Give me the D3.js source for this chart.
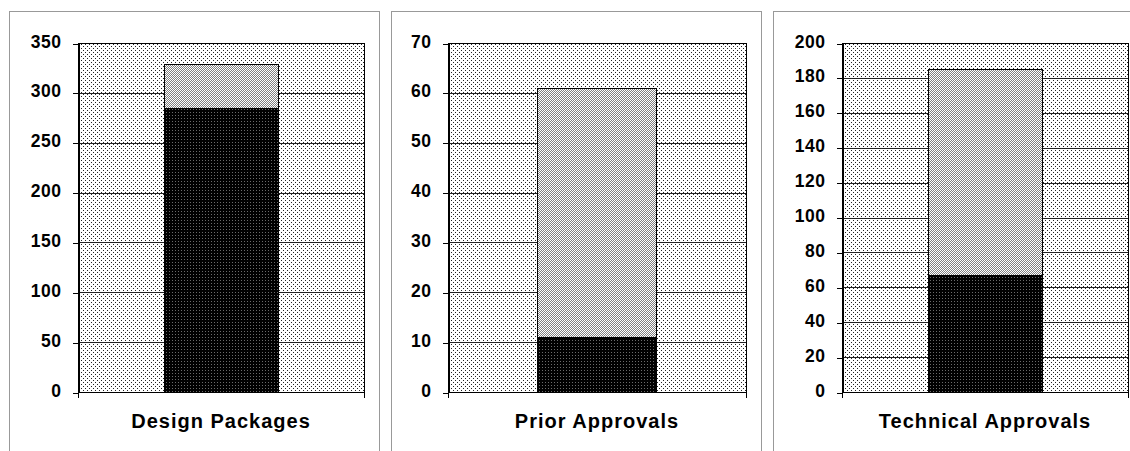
<!DOCTYPE html>
<html>
<head>
<meta charset="utf-8">
<script src="https://cdn.jsdelivr.net/npm/d3@7"></script>
<style>
body { margin: 0; background: #fff; overflow: hidden; }
text { font-family: "Liberation Sans", Arial, sans-serif; font-weight: bold; fill: #000; }
</style>
</head>
<body>
<div id="chart"></div>
<script>
const categories = ["Design Packages", "Prior Approvals", "Technical Approvals"];
const completed = [285, 11, 67];
const outstanding = [44, 50, 118];
const axisMax = [350, 70, 200];
const axisStep = [50, 10, 20];

const width = 1130, height = 451;
const panelX = [9, 391, 773];
const leftPad = [69, 57, 69];
const plotRight = 355;
const plotTop = 43, plotBottom = 392;

const svg = d3.select("#chart").append("svg")
    .attr("width", width)
    .attr("height", height);

const defs = svg.append("defs");

// little helper for the bitmap-like fill patterns
const pattern = (id, size, bg, cells) => {
    const p = defs.append("pattern")
        .attr("id", id)
        .attr("patternUnits", "userSpaceOnUse")
        .attr("width", size)
        .attr("height", size);
    p.append("rect").attr("width", size).attr("height", size).attr("fill", bg);
    cells.forEach(([x, y, c]) =>
        p.append("rect").attr("x", x).attr("y", y).attr("width", 1).attr("height", 1).attr("fill", c));
}

pattern("dots", 4, "#fff", [[0, 0, "#222"], [2, 2, "#222"]]);
pattern("hatch", 2, "#fff", [[0, 0, "#808080"], [1, 1, "#808080"]]);
pattern("dark", 3, "#000", [[1, 1, "#6a6a6a"]]);

const panel = function(i) {
    const g = svg.append("g")
        .attr("transform", `translate(${panelX[i]},0)`)
        .attr("shape-rendering", "crispEdges");

    g.append("rect")
        .attr("x", 0.5).attr("y", 11.5)
        .attr("width", 370).attr("height", 480)
        .attr("fill", "#fff")
        .attr("stroke", "#999");

    const left = leftPad[i];

    const x = d3.scaleBand()
        .domain([categories[i]])
        .range([left, plotRight])
        .paddingInner(0)
        .paddingOuter(0.75);

    const y = d3.scaleLinear()
        .domain([0, axisMax[i]])
        .range([plotBottom, plotTop]);

    const ticks = d3.range(0, axisMax[i] + 1, axisStep[i]);

    g.append("rect")
        .attr("x", left).attr("y", plotTop)
        .attr("width", plotRight - left).attr("height", plotBottom - plotTop)
        .attr("fill", "url(#dots)");

    g.append("g")
        .selectAll("line")
        .data(ticks)
        .enter()
        .append("line")
        .attr("x1", left).attr("x2", plotRight)
        .attr("y1", d => Math.round(y(d)) + 0.5).attr("y2", d => Math.round(y(d)) + 0.5)
        .attr("stroke", "#222");

    const stack = [
        { y0: 0, y1: completed[i], fill: "url(#dark)" },
        { y0: completed[i], y1: completed[i] + outstanding[i], fill: "url(#hatch)" }
    ];

    g.append("g")
        .selectAll("rect")
        .data(stack)
        .enter()
        .append("rect")
        .attr("x", Math.round(x(categories[i])) + 0.5)
        .attr("width", Math.round(x.bandwidth()))
        .attr("y", d => Math.round(y(d.y1)) + 0.5)
        .attr("height", d => Math.round(y(d.y0)) - Math.round(y(d.y1)))
        .attr("fill", d => d.fill)
        .attr("stroke", "#000");

    g.append("rect")
        .attr("x", left + 0.5).attr("y", plotTop + 0.5)
        .attr("width", plotRight - left).attr("height", plotBottom - plotTop)
        .attr("fill", "none")
        .attr("stroke", "#000");

    const yAxis = g.append("g")
        .attr("transform", `translate(${left + 0.5},0.5)`)
        .call(d3.axisLeft(y).tickValues(ticks).tickSize(6).tickPadding(11).tickSizeOuter(0));
    yAxis.select(".domain").attr("stroke", "#000");
    yAxis.selectAll(".tick line").attr("stroke", "#000");
    yAxis.selectAll("text")
        .attr("font-size", "17.5px")
        .attr("letter-spacing", "0.5px")
        .attr("dy", "0.2em")
        .attr("fill", "#000");

    // ticks at the band edges, label in the middle
    g.append("g")
        .selectAll("line")
        .data(x.range())
        .enter()
        .append("line")
        .attr("x1", d => d + 0.5).attr("x2", d => d + 0.5)
        .attr("y1", plotBottom).attr("y2", plotBottom + 6)
        .attr("stroke", "#000");

    g.append("text")
        .attr("x", x(categories[i]) + x.bandwidth() / 2)
        .attr("y", 428)
        .attr("text-anchor", "middle")
        .attr("font-size", "20px")
        .attr("letter-spacing", "1px")
        .text(categories[i]);
}

categories.forEach((d, i) => panel(i));
</script>
</body>
</html>
